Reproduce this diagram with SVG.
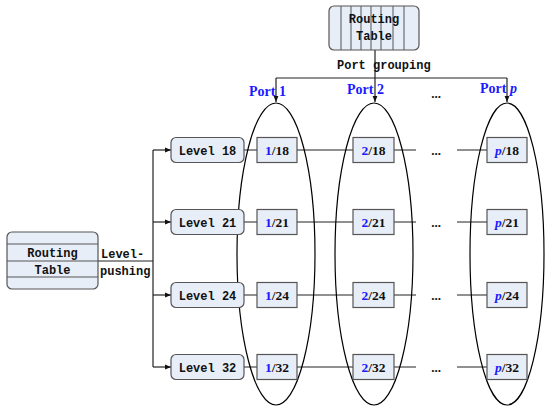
<svg xmlns="http://www.w3.org/2000/svg" width="545" height="409" viewBox="0 0 545 409">
<style>
.box{fill:#e8eef8;stroke:#555;stroke-width:1.2}
.ln{stroke:#222;stroke-width:1.2;fill:none}
.thin{stroke:#555;stroke-width:1;fill:none}
.ell{stroke:#000;stroke-width:1.2;fill:none}
.mono{font-family:"Liberation Mono",monospace;font-weight:bold;font-size:12px;fill:#111}
.tm{font-family:"Liberation Serif",serif;font-weight:bold;font-size:13.5px;fill:#111}
.blue{fill:#1a1aff}
.port{font-family:"Liberation Serif",serif;font-weight:bold;font-size:14px;fill:#1a1aff}
.dots{font-family:"Liberation Serif",serif;font-weight:bold;font-size:13px;fill:#111}
</style>
<defs>
<marker id="ar" viewBox="0 0 10 10" refX="10" refY="5" markerWidth="6" markerHeight="6" orient="auto" markerUnits="userSpaceOnUse">
<path d="M0,1 L10,5 L0,9 z" fill="#111"/>
</marker>
</defs>

<g id="connectors">
<line class="ln" x1="375" y1="50" x2="375" y2="78"/>
<line class="ln" x1="276" y1="78" x2="507" y2="78"/>
<line class="ln" x1="276" y1="78" x2="276" y2="102" marker-end="url(#ar)"/>
<line class="ln" x1="375" y1="78" x2="375" y2="102" marker-end="url(#ar)"/>
<line class="ln" x1="507" y1="78" x2="507" y2="102" marker-end="url(#ar)"/>
<line class="ln" x1="98" y1="261" x2="153" y2="261"/>
<line class="ln" x1="153" y1="150" x2="153" y2="367"/>
<line class="ln" x1="153" y1="150" x2="171" y2="150" marker-end="url(#ar)"/>
<line class="ln" x1="153" y1="222" x2="171" y2="222" marker-end="url(#ar)"/>
<line class="ln" x1="153" y1="295" x2="171" y2="295" marker-end="url(#ar)"/>
<line class="ln" x1="153" y1="367" x2="171" y2="367" marker-end="url(#ar)"/>
<g id="row-lines">
<path class="ln" d="M244,150H257M297,150H353M394,150H416M457,150H487"/>
<path class="ln" d="M244,222H257M297,222H353M394,222H416M457,222H487"/>
<path class="ln" d="M244,295H257M297,295H353M394,295H416M457,295H487"/>
<path class="ln" d="M244,367H257M297,367H353M394,367H416M457,367H487"/>
</g>
</g>

<g id="port-groups">
<ellipse class="ell" cx="276" cy="254" rx="39" ry="151"/>
<ellipse class="ell" cx="374" cy="254" rx="39" ry="151"/>
<ellipse class="ell" cx="507" cy="254" rx="37" ry="151"/>
</g>

<g id="routing-table-top">
<rect class="box" x="329" y="6" width="90" height="44" rx="5"/>
<path class="thin" d="M341,6V50M351,6V50M361,6V50M371,6V50M381,6V50M393,6V50M404,6V50"/>
<text class="mono" x="374" y="23" text-anchor="middle">Routing</text>
<text class="mono" x="374" y="40" text-anchor="middle">Table</text>
</g>

<g id="routing-table-left">
<rect class="box" x="7" y="232" width="91" height="57" rx="5"/>
<path class="thin" d="M7,244H98M7,261H98M7,277H98"/>
<text class="mono" x="52.5" y="257" text-anchor="middle">Routing</text>
<text class="mono" x="52.5" y="274" text-anchor="middle">Table</text>
</g>

<g id="labels">
<text class="mono" x="337" y="69">Port grouping</text>
<text class="mono" x="101" y="258">Level-</text>
<text class="mono" x="100" y="275">pushing</text>
<text class="port" x="249" y="96">Port 1</text>
<text class="port" x="347" y="94">Port 2</text>
<text class="port" x="480" y="93">Port <tspan font-style="italic">p</tspan></text>
<text class="dots" x="436" y="98" text-anchor="middle">...</text>
<text class="dots" x="436" y="155" text-anchor="middle">...</text>
<text class="dots" x="436" y="227" text-anchor="middle">...</text>
<text class="dots" x="436" y="300" text-anchor="middle">...</text>
<text class="dots" x="436" y="372" text-anchor="middle">...</text>
</g>

<g id="level-18"><rect class="box" x="171" y="137.5" width="73" height="25" rx="5"/><text class="mono" x="207.5" y="154.5" text-anchor="middle">Level 18</text></g>
<g id="level-21"><rect class="box" x="171" y="209.5" width="73" height="25" rx="5"/><text class="mono" x="207.5" y="226.5" text-anchor="middle">Level 21</text></g>
<g id="level-24"><rect class="box" x="171" y="282.5" width="73" height="25" rx="5"/><text class="mono" x="207.5" y="299.5" text-anchor="middle">Level 24</text></g>
<g id="level-32"><rect class="box" x="171" y="354.5" width="73" height="25" rx="5"/><text class="mono" x="207.5" y="371.5" text-anchor="middle">Level 32</text></g>

<g id="p1-18"><rect class="box" x="257" y="137.5" width="40" height="25"/><text class="tm" x="277" y="155" text-anchor="middle"><tspan class="blue">1</tspan>/18</text></g>
<g id="p1-21"><rect class="box" x="257" y="209.5" width="40" height="25"/><text class="tm" x="277" y="227" text-anchor="middle"><tspan class="blue">1</tspan>/21</text></g>
<g id="p1-24"><rect class="box" x="257" y="282.5" width="40" height="25"/><text class="tm" x="277" y="300" text-anchor="middle"><tspan class="blue">1</tspan>/24</text></g>
<g id="p1-32"><rect class="box" x="257" y="354.5" width="40" height="25"/><text class="tm" x="277" y="372" text-anchor="middle"><tspan class="blue">1</tspan>/32</text></g>

<g id="p2-18"><rect class="box" x="353" y="137.5" width="41" height="25"/><text class="tm" x="373.5" y="155" text-anchor="middle"><tspan class="blue">2</tspan>/18</text></g>
<g id="p2-21"><rect class="box" x="353" y="209.5" width="41" height="25"/><text class="tm" x="373.5" y="227" text-anchor="middle"><tspan class="blue">2</tspan>/21</text></g>
<g id="p2-24"><rect class="box" x="353" y="282.5" width="41" height="25"/><text class="tm" x="373.5" y="300" text-anchor="middle"><tspan class="blue">2</tspan>/24</text></g>
<g id="p2-32"><rect class="box" x="353" y="354.5" width="41" height="25"/><text class="tm" x="373.5" y="372" text-anchor="middle"><tspan class="blue">2</tspan>/32</text></g>

<g id="pp-18"><rect class="box" x="487" y="137.5" width="40" height="25"/><text class="tm" x="507" y="155" text-anchor="middle"><tspan class="blue" font-style="italic">p</tspan>/18</text></g>
<g id="pp-21"><rect class="box" x="487" y="209.5" width="40" height="25"/><text class="tm" x="507" y="227" text-anchor="middle"><tspan class="blue" font-style="italic">p</tspan>/21</text></g>
<g id="pp-24"><rect class="box" x="487" y="282.5" width="40" height="25"/><text class="tm" x="507" y="300" text-anchor="middle"><tspan class="blue" font-style="italic">p</tspan>/24</text></g>
<g id="pp-32"><rect class="box" x="487" y="354.5" width="40" height="25"/><text class="tm" x="507" y="372" text-anchor="middle"><tspan class="blue" font-style="italic">p</tspan>/32</text></g>
</svg>
